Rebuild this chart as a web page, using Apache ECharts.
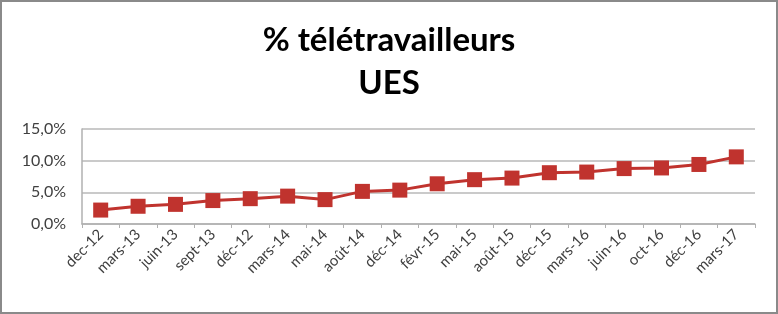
<!DOCTYPE html>
<html><head><meta charset="utf-8">
<script src="https://cdn.jsdelivr.net/npm/echarts@6/dist/echarts.min.js"></script>
<style>html,body{margin:0;padding:0;background:#fff}#c{width:778px;height:314px;box-sizing:border-box;border:2px solid #8a8a8a}</style>
</head><body><div id="c"></div>
<script>
const categories = ["dec-12","mars-13","juin-13","sept-13","déc-12","mars-14","mai-14","août-14","déc-14","févr-15","mai-15","août-15","déc-15","mars-16","juin-16","oct-16","déc-16","mars-17"];
const values = [2.2,2.8,3.1,3.7,4.0,4.4,3.85,5.15,5.35,6.35,7.0,7.25,8.1,8.2,8.75,8.85,9.4,10.6];
const yTicks = [0,5,10,15];

const chart = echarts.init(document.getElementById('c'));
chart.setOption({
  animation:false,
  backgroundColor:'#fff',
  title:{
    text:'% télétravailleurs\nUES',
    left:'center', top:12,
    textStyle:{fontFamily:'Lato', fontWeight:'bold', fontSize:33, color:'#000', lineHeight:43}
  },
  grid:{left:80, right:21, top:127, bottom:88},
  xAxis:{
    type:'category', data:categories, boundaryGap:true,
    axisLine:{lineStyle:{color:'#b0b0b0', width:1.5}},
    axisTick:{show:true, length:4, lineStyle:{color:'#b0b0b0'}},
    axisLabel:{rotate:45, fontFamily:'Lato', fontSize:15, color:'#404040', margin:8, interval:0}
  },
  yAxis:{
    type:'value', min:yTicks[0], max:yTicks[yTicks.length-1], interval:5,
    axisLine:{show:true, lineStyle:{color:'#b0b0b0', width:1.5}},
    axisTick:{show:false},
    splitLine:{lineStyle:{color:'#b8b8b8', width:1.5}},
    axisLabel:{fontFamily:'Lato', fontSize:16, color:'#404040', margin:16,
      formatter:v=>v.toFixed(1).replace('.',',')+'%'}
  },
  series:[{
    type:'line', data:values,
    symbol:'rect', symbolSize:15,
    lineStyle:{color:'#c0332e', width:3},
    itemStyle:{color:'#c0332e'}
  }]
});
</script></body></html>
